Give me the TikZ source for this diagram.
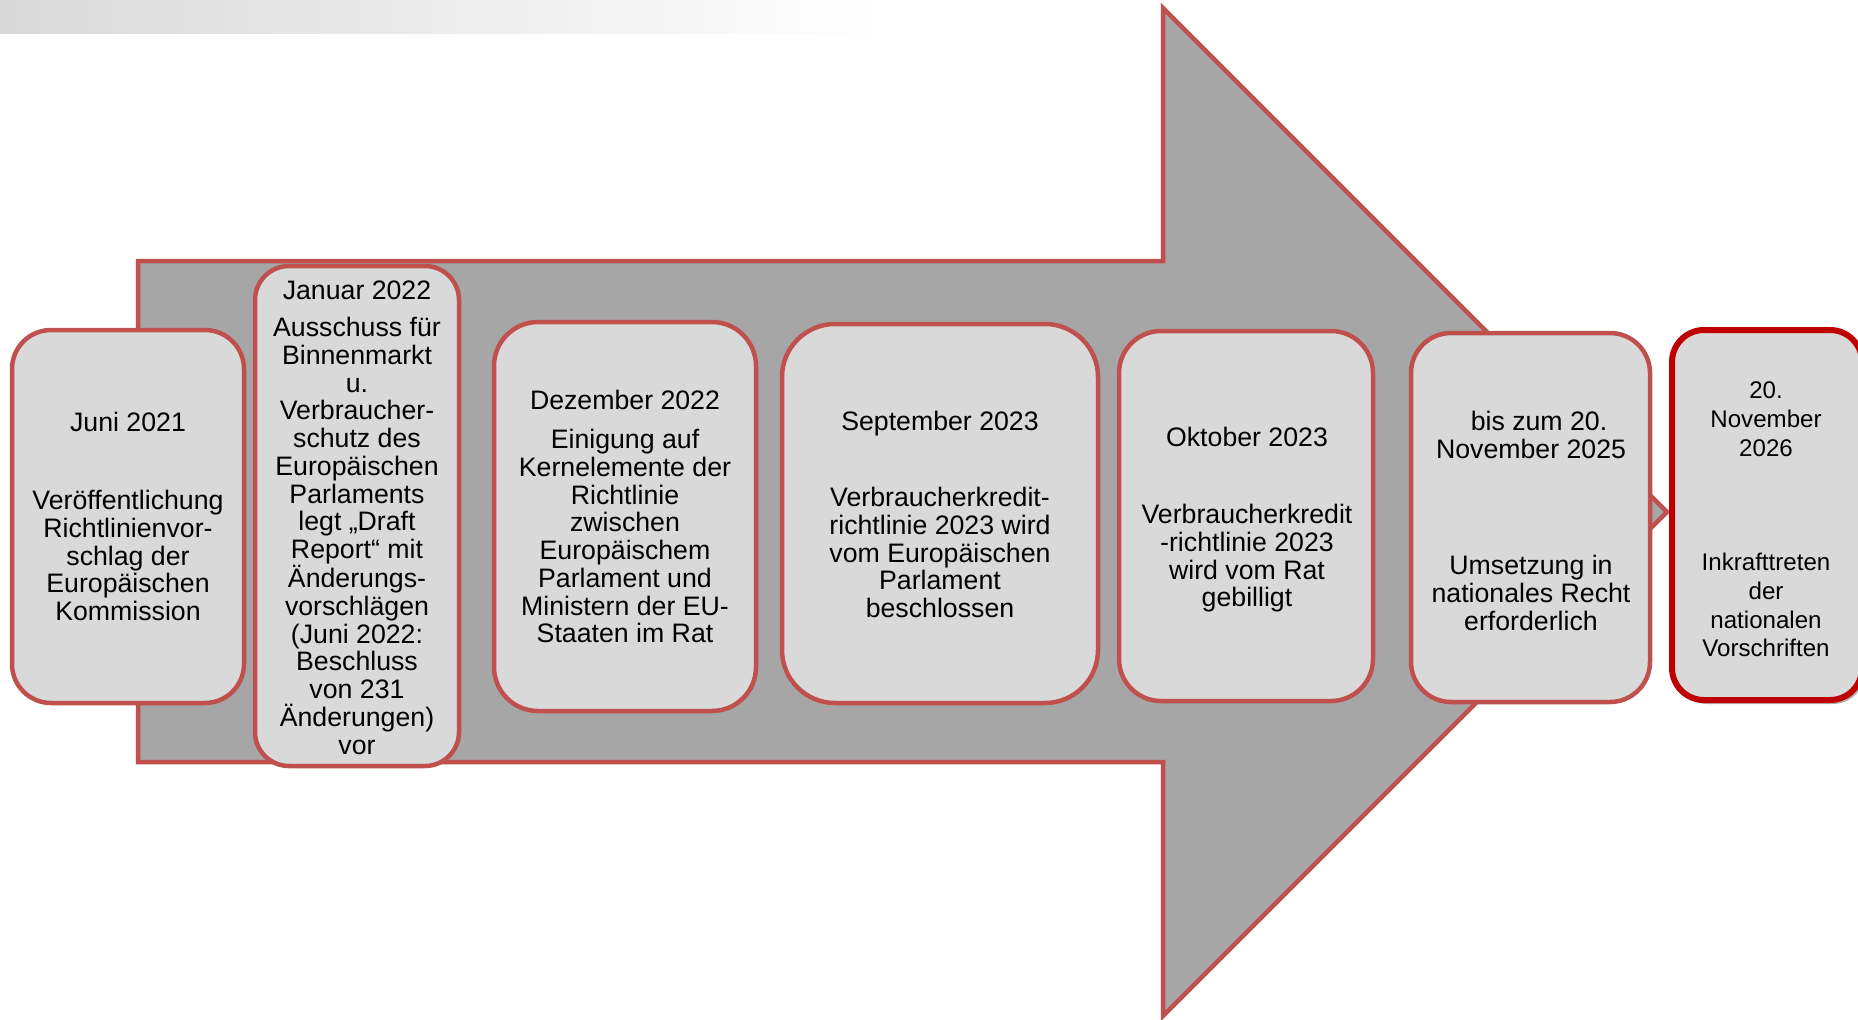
\documentclass[tikz,border=0pt]{standalone}
\usepackage{fontspec}
\setmainfont{Liberation Sans}
\usetikzlibrary{shadows}
\definecolor{arrowfill}{HTML}{A6A6A6}
\definecolor{boxred}{HTML}{C0504D}
\definecolor{boxgray}{HTML}{D9D9D9}
\definecolor{darkred}{HTML}{C00000}
\newcommand{\firstln}{\rule{0pt}{20pt}}
\begin{document}
\begin{tikzpicture}[x=1pt,y=-1pt,
  tbox/.style={draw=boxred, line width=4.5pt, fill=boxgray, rounded corners=#1, inner sep=0pt, shape=rectangle},
  fbox/.style={draw=darkred, line width=6pt, fill=boxgray, rounded corners=#1, inner sep=0pt, shape=rectangle,
     drop shadow={shadow xshift=3pt, shadow yshift=-4pt, opacity=0.3, fill=black}},
  ttl/.style={anchor=base, inner sep=0pt, font=\fontsize{26.7}{27.75}\selectfont},
  body/.style={anchor=north, inner sep=0pt, align=center, font=\fontsize{26.7}{27.75}\selectfont},
  smallbody/.style={anchor=north, inner sep=0pt, align=center, font=\fontsize{24.1}{28.7}\selectfont}
]
\useasboundingbox (0,0) rectangle (1858,1020);
\clip (0,0) rectangle (1858,1020);
% top gradient bar
\shade[left color=black!15, right color=white, draw=none] (0,0) rectangle (880,33);
% big arrow
\draw[fill=arrowfill, draw=boxred, line width=4.5pt, line join=miter]
  (138,261) -- (1163,261) -- (1163,8) -- (1667,512) -- (1163,1016) -- (1163,762) -- (138,762) -- cycle;
% boxes
\node[tbox=39pt, minimum width=232pt, minimum height=373pt] (b1) at (128,516.5) {};
\node[tbox=34pt, minimum width=204pt, minimum height=500pt] (b2) at (357,516) {};
\node[tbox=44pt, minimum width=262pt, minimum height=389pt] (b3) at (625,516.5) {};
\node[tbox=53pt, minimum width=316pt, minimum height=379pt] (b4) at (940,513.5) {};
\node[tbox=42pt, minimum width=254pt, minimum height=370pt] (b5) at (1246,516) {};
\node[tbox=40pt, minimum width=239pt, minimum height=369pt] (b6) at (1530.5,517.5) {};
\node[fbox=32pt, minimum width=190pt, minimum height=370pt] (b7) at (1767,515) {};
% texts
\node[ttl] (t1a) at (128,431.5) {Juni 2021};
\node[body] (t1b) at (128,489.5) {\firstln Veröffentlichung\\Richtlinienvor-\\schlag der\\Europäischen\\Kommission};
\node[ttl] (t2a) at (357,299.5) {Januar 2022};
\node[body] (t2b) at (357,316.5) {\firstln Ausschuss für\\Binnenmarkt\\u.\\Verbraucher-\\schutz des\\Europäischen\\Parlaments\\legt „Draft\\Report“ mit\\Änderungs-\\vorschlägen\\(Juni 2022:\\Beschluss\\von 231\\Änderungen)\\vor};
\node[ttl] (t3a) at (625,409.5) {Dezember 2022};
\node[body] (t3b) at (625,428.5) {\firstln Einigung auf\\Kernelemente der\\Richtlinie\\zwischen\\Europäischem\\Parlament und\\Ministern der EU-\\Staaten im Rat};
\node[ttl] (t4a) at (940,430.5) {September 2023};
\node[body] (t4b) at (940,486.5) {\firstln Verbraucherkredit-\\richtlinie 2023 wird\\vom Europäischen\\Parlament\\beschlossen};
\node[ttl] (t5a) at (1247,446.5) {Oktober 2023};
\node[body] (t5b) at (1247,503.5) {\firstln Verbraucherkredit\\-richtlinie 2023\\wird vom Rat\\gebilligt};
\node[body] (t6a) at (1531,410.5) {\firstln\hspace*{16pt}bis zum 20.\\November 2025};
\node[body] (t6b) at (1531,554.5) {\firstln Umsetzung in\\nationales Recht\\erforderlich};
\node[smallbody] (t7a) at (1766,378.5) {\firstln 20.\\November\\2026};
\node[smallbody] (t7b) at (1766,550.5) {\firstln Inkrafttreten\\der\\nationalen\\Vorschriften};
\end{tikzpicture}
\end{document}
